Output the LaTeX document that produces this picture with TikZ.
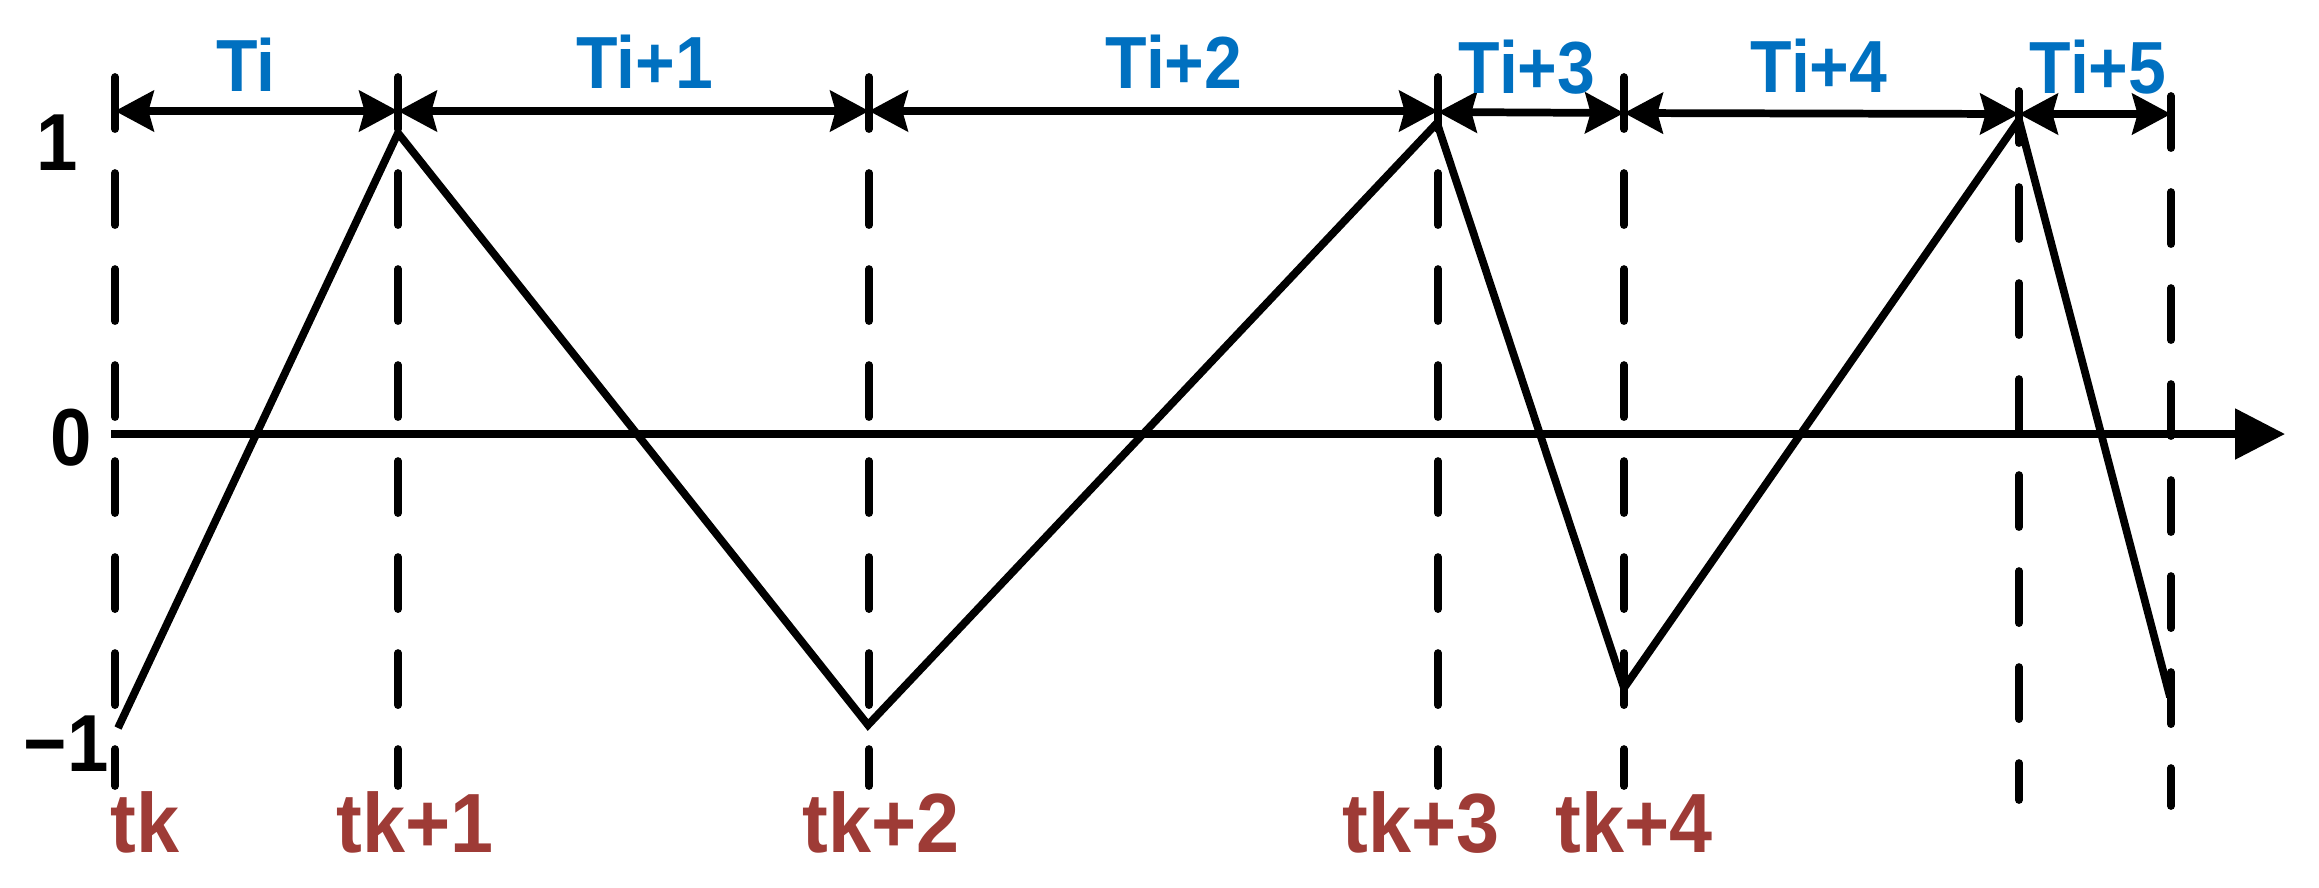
\documentclass[tikz,border=0pt]{standalone}
\usepackage{fontspec}
\setmainfont{Liberation Sans}[FakeStretch=0.92]
\usetikzlibrary{arrows.meta}
\definecolor{tblue}{HTML}{0070C0}
\definecolor{tred}{HTML}{9E3B36}
\tikzset{
  dashv/.style={line width=2.2pt, dash pattern=on 14.8pt off 12.5pt, line cap=round},
  wave/.style={line width=2.2pt, line join=miter},
  axisline/.style={line width=2.2pt, -{Triangle[length=14.2pt,width=14pt]}},
  spanarrow/.style={line width=2.2pt, line cap=butt,
    {Stealth[length=11pt,width=11.5pt,inset=1.5pt]}-{Stealth[length=11pt,width=11.5pt,inset=1.5pt]}},
  blab/.style={text=tblue, font=\fontsize{21}{21}\selectfont\bfseries, anchor=base, inner sep=0pt},
  rlab/.style={text=tred, font=\fontsize{23.9}{24}\selectfont\bfseries, anchor=base, inner sep=0pt},
  klab/.style={text=black, font=\fontsize{23}{23}\selectfont\bfseries, anchor=base, inner sep=0pt}
}
\begin{document}
\begin{tikzpicture}[x=0.01cm,y=-0.01cm]
\useasboundingbox (0,0) rectangle (2319,887);
% dashed vertical lines
\coordinate (v0t) at (115,77);  \coordinate (v0b) at (115,786);
\coordinate (v1t) at (398,77);  \coordinate (v1b) at (398,786);
\coordinate (v2t) at (869,77);  \coordinate (v2b) at (869,786);
\coordinate (v3t) at (1438,77); \coordinate (v3b) at (1438,786);
\coordinate (v4t) at (1624,77); \coordinate (v4b) at (1624,786);
\coordinate (v5t) at (2019,91); \coordinate (v5b) at (2019,800);
\coordinate (v6t) at (2171,96); \coordinate (v6b) at (2171,806);
\foreach \i in {0,...,6} { \draw[dashv] (v\i t) -- (v\i b); }
% axis
\coordinate (ax0) at (111,434);
\coordinate (ax1) at (2285,434);
\draw[axisline] (ax0) -- (ax1);
% triangle wave
\coordinate (p0) at (118,728);
\coordinate (p1) at (398,133);
\coordinate (p2) at (868,725);
\coordinate (p3) at (1437,123);
\coordinate (p4) at (1624,688);
\coordinate (p5) at (2019,120);
\coordinate (p6) at (2170,697);
\draw[wave] (p0) -- (p1) -- (p2) -- (p3) -- (p4) -- (p5) -- (p6);
% period arrows
\coordinate (a0) at (115,111);
\coordinate (a1) at (398,111);
\coordinate (a2) at (869,111);
\coordinate (a3) at (1438,111);
\coordinate (a3r) at (1438,112);
\coordinate (a4) at (1624,113);
\coordinate (a5) at (2019,114);
\coordinate (a6) at (2171,114);
\draw[spanarrow] (a0) -- (a1);
\draw[spanarrow] (a1) -- (a2);
\draw[spanarrow] (a2) -- (a3);
\draw[spanarrow] (a3r) -- (a4);
\draw[spanarrow] (a4) -- (a5);
\draw[spanarrow] (a5) -- (a6);
% period labels
\node[blab] (T0) at (246,91) {Ti};
\node[blab] (T1) at (645,88) {Ti+1};
\node[blab] (T2) at (1174,88) {Ti+2};
\node[blab] (T3) at (1527,93) {Ti+3};
\node[blab] (T4) at (1819,92) {Ti+4};
\node[blab] (T5) at (2098,93) {Ti+5};
% time labels
\node[rlab] (t0) at (145,852) {tk};
\node[rlab] (t1) at (415,852) {tk+1};
\node[rlab] (t2) at (881,852) {tk+2};
\node[rlab] (t3) at (1421,852) {tk+3};
\node[rlab] (t4) at (1634,852) {tk+4};
% amplitude labels
\node[klab] (y1) at (57,170) {1};
\node[klab] (y0) at (71,465) {0};
\node[klab] (ym) at (66,771) {−1};
\end{tikzpicture}
\end{document}
